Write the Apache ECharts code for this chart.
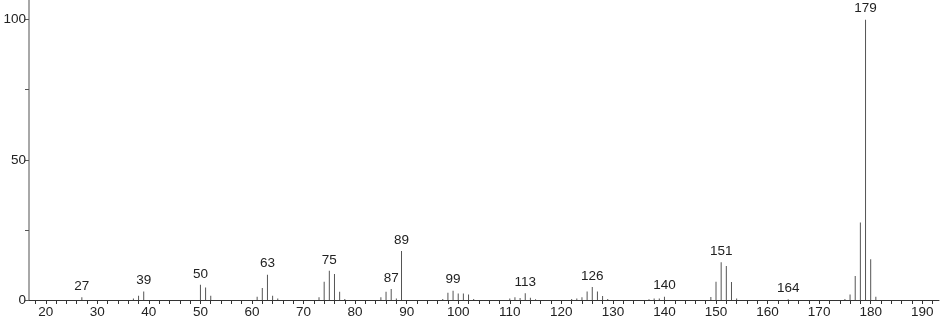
<!DOCTYPE html>
<html><head><meta charset="utf-8">
<script src="https://cdn.jsdelivr.net/npm/echarts@6/dist/echarts.min.js"></script>
<style>html,body{margin:0;padding:0;background:#fff}#c{width:940px;height:322px}</style>
</head><body><div id="c"></div>
<script>
const mz = [27, 37, 38, 39, 50, 51, 52, 61, 62, 63, 64, 65, 73, 74, 75, 76, 77, 78, 85, 86, 87, 88, 89, 97, 98, 99, 100, 101, 102, 103, 110, 111, 112, 113, 114, 115, 122, 123, 124, 125, 126, 127, 128, 129, 137, 138, 139, 140, 149, 150, 151, 152, 153, 154, 164, 175, 176, 177, 178, 179, 180, 181];
const intensity = [1.0, 0.5, 1.5, 3.0, 5.4, 4.5, 1.5, 1.2, 4.3, 9.0, 1.5, 0.5, 1.0, 6.5, 10.4, 9.3, 2.9, 0.4, 1.0, 2.9, 3.9, 0.5, 17.5, 0.4, 2.6, 3.3, 2.3, 2.3, 2.0, 0.4, 0.5, 1.0, 0.7, 2.4, 0.8, 0.3, 0.4, 0.5, 1.0, 3.0, 4.6, 3.0, 1.4, 0.4, 0.3, 0.5, 0.5, 1.2, 1.1, 6.5, 13.5, 12.1, 6.4, 0.5, 0.3, 0.4, 2.0, 8.6, 27.6, 100, 14.5, 1.2];
const labeledPeaks = [27, 39, 50, 63, 75, 87, 89, 99, 113, 126, 140, 151, 164, 179];
const xTickLabels = [20, 30, 40, 50, 60, 70, 80, 90, 100, 110, 120, 130, 140, 150, 160, 170, 180, 190];
const xTicks = [18, 20, 22, 24, 26, 28, 30, 32, 34, 36, 38, 40, 42, 44, 46, 48, 50, 52, 54, 56, 58, 60, 62, 64, 66, 68, 70, 72, 74, 76, 78, 80, 82, 84, 86, 88, 90, 92, 94, 96, 98, 100, 102, 104, 106, 108, 110, 112, 114, 116, 118, 120, 122, 124, 126, 128, 130, 132, 134, 136, 138, 140, 142, 144, 146, 148, 150, 152, 154, 156, 158, 160, 162, 164, 166, 168, 170, 172, 174, 176, 178, 180, 182, 184, 186, 188, 190, 192];
const yTickLabels = [0, 50, 100];
const yTicks = [0, 25, 50, 75, 100];

const FONT = 'Liberation Sans';
const chart = echarts.init(document.getElementById('c'), null, {renderer: 'canvas'});
const data = mz.map((m, i) => ({
  value: [m, intensity[i]],
  label: {show: labeledPeaks.includes(m)}
}));
chart.setOption({
  animation: false,
  backgroundColor: '#fff',
  grid: {left: 29, right: 1, top: 0, bottom: 22, containLabel: false},
  xAxis: {
    type: 'value', min: 16.75, max: 193.25,
    axisLine: {show: true, lineStyle: {color: '#333', width: 1}},
    axisTick: {show: true, length: 4, customValues: xTicks, lineStyle: {color: '#333'}},
    axisLabel: {customValues: xTickLabels, color: '#222', fontFamily: FONT, fontSize: 13.5, margin: 5},
    splitLine: {show: false}
  },
  yAxis: {
    type: 'value', min: 0, max: 107,
    axisLine: {show: true, lineStyle: {color: '#a8a8a8', width: 2}},
    axisTick: {show: true, length: 4, customValues: yTicks, lineStyle: {color: '#555'}},
    axisLabel: {customValues: yTickLabels, color: '#222', fontFamily: FONT, fontSize: 13.5, margin: 3},
    splitLine: {show: false}
  },
  series: [{
    type: 'bar',
    data: data,
    barWidth: 1,
    itemStyle: {color: '#555'},
    label: {
      position: 'top', distance: 4, color: '#222', fontFamily: FONT, fontSize: 13.5,
      formatter: p => String(p.value[0])
    }
  }]
});
</script></body></html>
